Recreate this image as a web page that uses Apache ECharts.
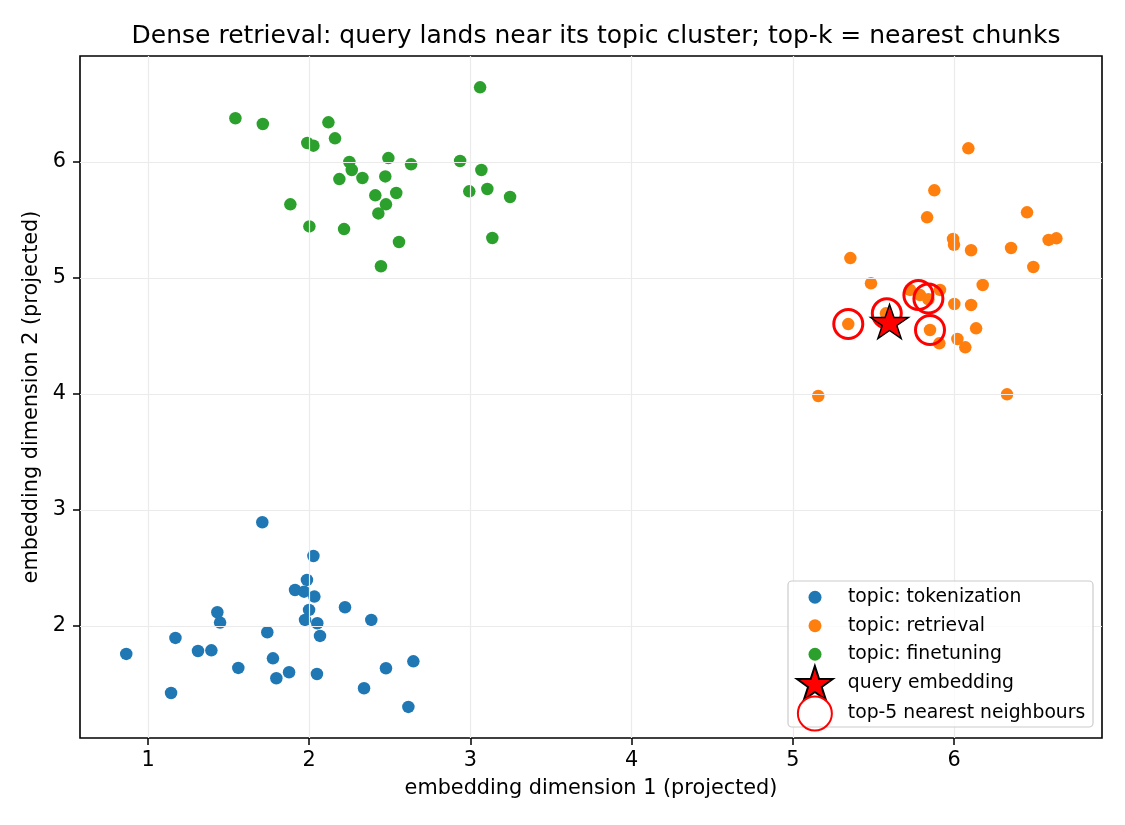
<!DOCTYPE html>
<html>
<head>
<meta charset="utf-8">
<title>Dense retrieval</title>
<script src="https://cdn.jsdelivr.net/npm/echarts@6/dist/echarts.min.js"></script>
<style>
  html, body { margin: 0; padding: 0; background: #fff; }
  #chart { width: 1125px; height: 825px; }
</style>
</head>
<body>
<div id="chart"></div>
<script>
// topic clusters, [x, y] in projected embedding space
var tokenizationPts = [
  [1.709, 2.894], [2.026, 2.603], [1.986, 2.397], [1.912, 2.310], [1.968, 2.296],
  [2.032, 2.253], [2.222, 2.161], [1.430, 2.118], [1.999, 2.138], [2.385, 2.052],
  [1.447, 2.029], [1.974, 2.052], [2.050, 2.023], [2.067, 1.914], [1.740, 1.946],
  [1.170, 1.897], [0.865, 1.759], [1.310, 1.784], [1.393, 1.790], [1.775, 1.721],
  [1.560, 1.638], [2.646, 1.695], [2.476, 1.635], [1.875, 1.601], [2.048, 1.586],
  [1.796, 1.549], [2.340, 1.463], [1.143, 1.422], [2.615, 1.302]
];
var retrievalPts = [
  [6.089, 6.118], [5.878, 5.756], [5.833, 5.523], [6.453, 5.566], [5.357, 5.172],
  [5.994, 5.336], [6.000, 5.287], [6.106, 5.239], [6.354, 5.259], [6.587, 5.328],
  [6.635, 5.342], [6.492, 5.095], [5.485, 4.954], [6.178, 4.940], [5.727, 4.897],
  [5.913, 4.897], [5.789, 4.853], [5.841, 4.816], [6.002, 4.776], [6.106, 4.767],
  [5.578, 4.695], [5.344, 4.603], [5.851, 4.552], [6.137, 4.566], [5.909, 4.437],
  [6.021, 4.474], [6.070, 4.402], [5.158, 3.983], [6.329, 3.997]
];
var finetuningPts = [
  [3.060, 6.644], [1.542, 6.377], [1.712, 6.328], [2.119, 6.342], [1.988, 6.164],
  [2.026, 6.141], [2.160, 6.204], [2.249, 6.000], [2.491, 6.034], [2.632, 5.980],
  [2.936, 6.009], [2.264, 5.931], [3.068, 5.931], [2.187, 5.853], [2.330, 5.862],
  [2.472, 5.876], [2.993, 5.747], [3.105, 5.767], [2.410, 5.713], [2.540, 5.733],
  [3.246, 5.698], [2.476, 5.635], [1.883, 5.635], [2.429, 5.557], [2.001, 5.445],
  [2.216, 5.422], [3.136, 5.345], [2.557, 5.310], [2.445, 5.101]
];
var queryPt = [[5.60, 4.61]];
var neighbourPts = [[5.344, 4.603], [5.583, 4.695], [5.779, 4.853], [5.841, 4.823], [5.851, 4.552]];

var xRange = [0.578, 6.918];
var yRange = [1.034, 6.914];
var xTicks = [1, 2, 3, 4, 5, 6];
var yTicks = [2, 3, 4, 5, 6];

var starPath = 'path://M0,-1 L0.2245,-0.309 L0.951,-0.309 L0.3633,0.118 L0.5878,0.809 L0,0.382 L-0.5878,0.809 L-0.3633,0.118 L-0.951,-0.309 L-0.2245,-0.309 Z';
var font = 'DejaVu Sans';

var gridLines = [];
xTicks.forEach(function (v) { gridLines.push({ xAxis: v }); });
yTicks.forEach(function (v) { gridLines.push({ yAxis: v }); });

var myChart = echarts.init(document.getElementById('chart'));
var option = {
  backgroundColor: '#fff',
  animation: false,
  title: {
    text: 'Dense retrieval: query lands near its topic cluster; top-k = nearest chunks',
    left: 591, top: 19, textAlign: 'center',
    textStyle: { fontFamily: font, fontSize: 25, fontWeight: 'normal', color: '#000' }
  },
  grid: {
    left: 80, right: 23, top: 56, bottom: 87,
    show: true, borderColor: '#000', borderWidth: 1.6, backgroundColor: 'transparent'
  },
  xAxis: {
    type: 'value', min: xRange[0], max: xRange[1],
    name: 'embedding dimension 1 (projected)', nameLocation: 'middle', nameGap: 40,
    nameTextStyle: { fontFamily: font, fontSize: 20.8, color: '#000' },
    axisLine: { show: false },
    axisTick: { show: true, inside: false, length: 7, customValues: xTicks, lineStyle: { color: '#000', width: 1.5 } },
    axisLabel: { customValues: xTicks, margin: 12, fontFamily: font, fontSize: 20.8, color: '#000' },
    splitLine: { show: false }
  },
  yAxis: {
    type: 'value', min: yRange[0], max: yRange[1],
    name: 'embedding dimension 2 (projected)', nameLocation: 'middle', nameGap: 37,
    nameTextStyle: { fontFamily: font, fontSize: 20.8, color: '#000' },
    axisLine: { show: false },
    axisTick: { show: true, inside: false, length: 7, customValues: yTicks, lineStyle: { color: '#000', width: 1.5 } },
    axisLabel: { customValues: yTicks, margin: 14, fontFamily: font, fontSize: 20.8, color: '#000' },
    splitLine: { show: false }
  },
  legend: [{
    left: 808.5, top: 583, orient: 'vertical', padding: 0, z: 20,
    itemWidth: 13, itemHeight: 13, itemGap: 0,
    data: ['topic: tokenization', 'topic: retrieval', 'topic: finetuning'],
    textStyle: { fontFamily: font, fontSize: 18.75, color: '#000', lineHeight: 28.5, padding: [0, 0, 0, 21.5] }
  }, {
    left: 796, top: 665, orient: 'vertical', padding: 0, z: 20,
    itemWidth: 38, itemHeight: 34, itemGap: -5.5,
    data: ['query embedding', 'top-5 nearest neighbours'],
    textStyle: { fontFamily: font, fontSize: 18.75, color: '#000', lineHeight: 28, padding: [0, 0, 0, 9] }
  }],
  graphic: [{
    type: 'rect', z: 10,
    shape: { x: 788, y: 581, width: 305, height: 146, r: 4 },
    style: { fill: 'rgba(255,255,255,0.8)', stroke: '#cccccc', lineWidth: 1.2 }
  }],
  series: [{
    name: 'grid', type: 'scatter', data: [], z: 1, silent: true,
    markLine: {
      silent: true, symbol: 'none', label: { show: false },
      lineStyle: { color: '#ebebeb', width: 1.2, type: 'solid' },
      data: gridLines
    }
  }, {
    name: 'topic: tokenization', type: 'scatter', z: 2,
    symbol: 'circle', symbolSize: 12.5,
    itemStyle: { color: '#1f77b4', opacity: 1 },
    data: tokenizationPts
  }, {
    name: 'topic: retrieval', type: 'scatter', z: 2,
    symbol: 'circle', symbolSize: 12.5,
    itemStyle: { color: '#ff7f0e', opacity: 1 },
    data: retrievalPts
  }, {
    name: 'topic: finetuning', type: 'scatter', z: 2,
    symbol: 'circle', symbolSize: 12.5,
    itemStyle: { color: '#2ca02c', opacity: 1 },
    data: finetuningPts
  }, {
    name: 'top-5 nearest neighbours', type: 'scatter', z: 3,
    symbol: 'circle', symbolSize: 29,
    itemStyle: { color: 'rgba(0,0,0,0)', borderColor: '#ff0000', borderWidth: 3, opacity: 1 },
    data: neighbourPts
  }, {
    name: 'query embedding', type: 'scatter', z: 4,
    symbol: starPath, symbolSize: [38, 36], symbolKeepAspect: true, symbolOffset: [0, -1.7],
    itemStyle: { color: '#ff0000', borderColor: '#000', borderWidth: 1.4, opacity: 1 },
    data: queryPt
  }]
};
myChart.setOption(option);
</script>
</body>
</html>
